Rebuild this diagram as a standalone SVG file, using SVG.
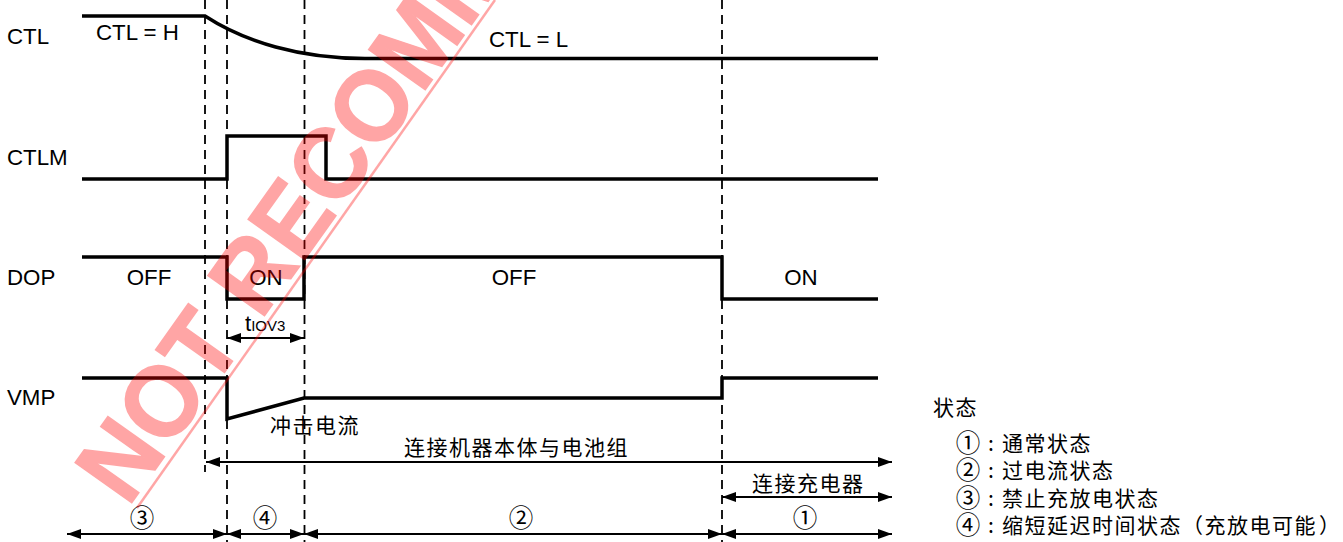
<svg xmlns="http://www.w3.org/2000/svg" width="1343" height="542" viewBox="0 0 1343 542">
<style>
text{font-family:"Liberation Sans",Arial,sans-serif;font-size:22.300px;fill:#000}
.c{font-family:"Noto Sans CJK SC","Liberation Sans",sans-serif;font-size:21px;letter-spacing:1.500px}
.n{font-family:"Noto Sans CJK SC","Liberation Sans",sans-serif;font-size:24.500px;text-anchor:middle}
.m{text-anchor:middle}
.w{fill:none;stroke:#000;stroke-width:3.500}
.d{fill:none;stroke:#000;stroke-width:1.800;stroke-dasharray:9 6}
.a{fill:none;stroke:#000;stroke-width:1.800;marker-start:url(#h);marker-end:url(#h)}
</style>
<defs><marker id="h" markerUnits="userSpaceOnUse" markerWidth="15" markerHeight="11" refX="14" refY="5.500" orient="auto-start-reverse"><path d="M0 .5L14 5.500L0 10.500Z" fill="#000"/></marker></defs>
<rect width="1343" height="542" fill="#fff"/>
<g id="guides">
<path class="d" d="M205 0V472"/><path class="d" d="M227 0V542"/><path class="d" d="M304.500 0V542"/><path class="d" d="M722 0V542"/>
</g>
<g id="waves">
<path class="w" d="M82 16H205C245 42 300 58.500 365 58.500H878"/>
<path class="w" d="M82 179H227V136H326V179H878"/>
<path class="w" d="M82 257H227V299H304V257H722V299H878"/>
<path class="w" d="M82 378H227V419L304 398H722V378H878"/>
</g>
<g id="connectors">
<path class="a" d="M227 338H304"/>
<path d="M206 462H892" class="a"/>
<path class="a" d="M722 497H892"/>
<path class="a" d="M67 534H227"/><path class="a" d="M227 534H304"/><path class="a" d="M304 534H722"/><path class="a" d="M722 534H892"/>
</g>
<g id="labels">
<text x="7" y="44">CTL</text><text x="7" y="165">CTLM</text><text x="7" y="285">DOP</text><text x="7" y="405">VMP</text>
<text x="96" y="40">CTL = H</text><text x="489" y="47">CTL = L</text>
<text class="m" x="149" y="285">OFF</text><text class="m" x="266" y="285">ON</text><text class="m" x="514" y="285">OFF</text><text class="m" x="801" y="285">ON</text>
<text x="245" y="331">t<tspan font-size="15">IOV3</tspan></text>
<text class="c" x="270" y="433">冲击电流</text>
<text class="c" x="404" y="455">连接机器本体与电池组</text>
<text class="c" x="752" y="491">连接充电器</text>
<text class="n" x="142" y="527">③</text><text class="n" x="265" y="527">④</text><text class="n" x="521" y="527">②</text><text class="n" x="805" y="527">①</text>
<text class="c" x="933" y="415">状态</text>
<text class="n" x="968" y="452">①</text><text class="c" x="988" y="451">:</text><text class="c" x="1002" y="451">通常状态</text>
<text class="n" x="968" y="479">②</text><text class="c" x="988" y="478">:</text><text class="c" x="1002" y="478">过电流状态</text>
<text class="n" x="968" y="507">③</text><text class="c" x="988" y="506">:</text><text class="c" x="1002" y="506">禁止充放电状态</text>
<text class="n" x="968" y="534">④</text><text class="c" x="988" y="533">:</text><text class="c" x="1002" y="533">缩短延迟时间状态（充放电可能<tspan dx="2">）</tspan></text>
</g>
<g id="watermark">
<text transform="translate(128 508) rotate(-54.600) scale(1 1.050)" style="font-size:96px;font-weight:bold;fill:#f00;stroke:#f00;stroke-width:1.500;opacity:.35">NOT RECOMMENDED</text>
<path d="M137 508L495 0" stroke="#f00" stroke-opacity=".35" stroke-width="2.500" fill="none"/>
</g>
</svg>
